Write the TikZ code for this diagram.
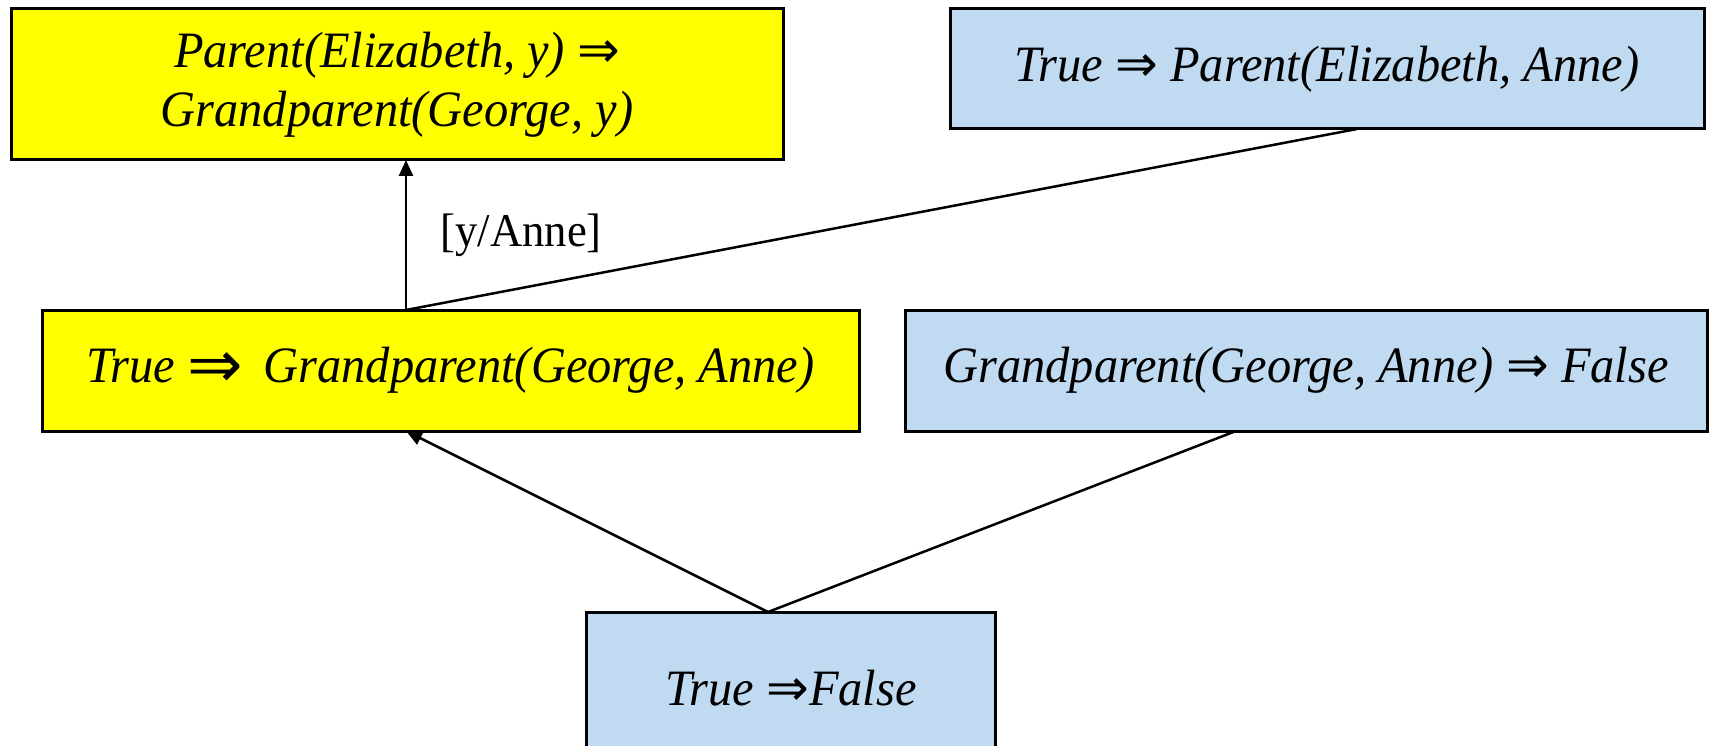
\documentclass[tikz,border=0pt]{standalone}
\usepackage{fontspec}
\setmainfont{Liberation Serif}[FakeStretch=0.95]
\newfontfamily\symfont{DejaVu Sans}
\newcommand{\impl}{{\upshape\symfont ⇒}}
\newcommand{\bigimpl}{{\upshape\symfont\raisebox{-0.1em}{\scalebox{1.3}{⇒}}}}
\usetikzlibrary{arrows.meta}
\definecolor{boxyellow}{RGB}{255,255,0}
\definecolor{boxblue}{RGB}{192,218,241}
\tikzset{
  box/.style={draw=black, line width=3pt, rectangle, inner sep=0pt, align=center,
    font=\fontsize{51}{59}\selectfont\itshape},
  ybox/.style={box, fill=boxyellow},
  bbox/.style={box, fill=boxblue},
  conn/.style={line width=2.5pt},
  arr/.style={conn, -{Triangle[length=16pt,width=14pt]}},
}
\begin{document}
\begin{tikzpicture}[x=1pt,y=-1pt]
\useasboundingbox (0,0) rectangle (1720,746);
\clip (0,0) rectangle (1720,746);
\node[ybox, minimum width=772pt, minimum height=151pt] (A) at (397,84.5)
  {Parent(Elizabeth, y) \impl\\Grandparent(George, y)};
\node[bbox, minimum width=754pt, minimum height=120pt] (B) at (1327,69)
  {True \impl{} Parent(Elizabeth, Anne)};
\node[ybox, minimum width=817pt, minimum height=121pt] (C) at (450.5,370.5)
  {True \bigimpl{}\, Grandparent(George, Anne)};
\node[bbox, minimum width=802pt, minimum height=121pt] (D) at (1306,370.5)
  {Grandparent(George, Anne) \impl{} False};
\node[bbox, minimum width=409pt, minimum height=152pt] (E) at (791,688)
  {True \impl False};
\coordinate (Ctop) at (406,310);
\coordinate (Abot) at (406,160);
\coordinate (Bbot) at (1357,129);
\coordinate (Etop) at (768,612);
\coordinate (Cbot) at (406,431);
\coordinate (Dbot) at (1236,431);
\draw[arr] (Ctop) -- (Abot) node[midway, right=30pt, font=\fontsize{47}{50}\selectfont] (L) {[y/Anne]};
\draw[conn] (Ctop) -- (Bbot);
\draw[arr] (Etop) -- (Cbot);
\draw[conn] (Etop) -- (Dbot);
\end{tikzpicture}
\end{document}
